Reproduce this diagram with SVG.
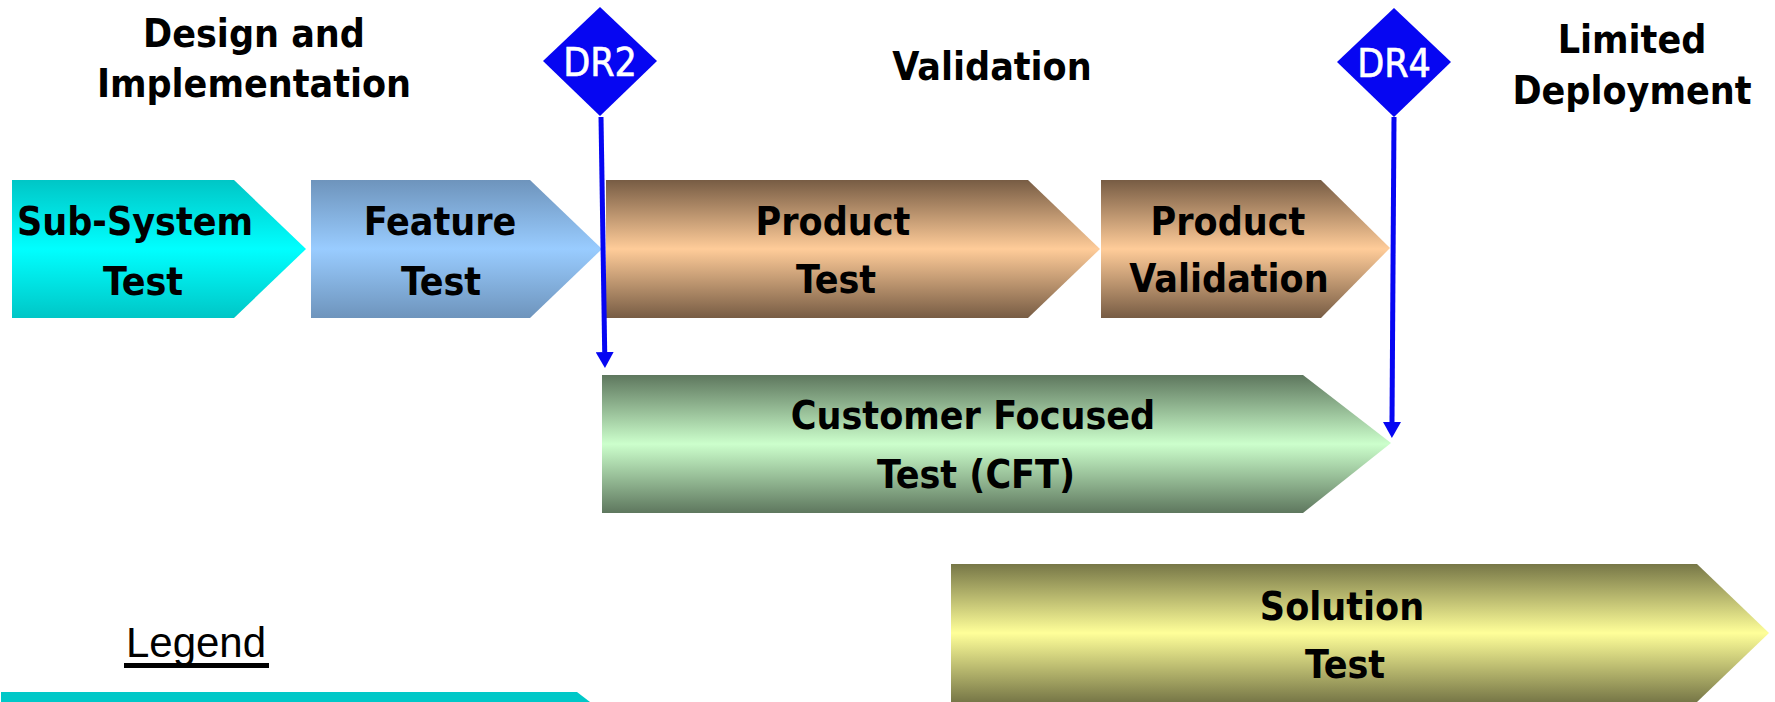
<svg xmlns="http://www.w3.org/2000/svg" width="1775" height="702" viewBox="0 0 1775 702">
<style>
  .lbl { font-family: "DejaVu Sans", "Liberation Sans", sans-serif; font-stretch: condensed; font-weight: bold; font-size: 39px; fill: #000; text-anchor: middle; }
  .dr { font-family: "DejaVu Sans", "Liberation Sans", sans-serif; font-stretch: condensed; font-size: 39px; fill: #fff; stroke: #fff; stroke-width: 0.6; text-anchor: middle; }
  .legend { font-family: "Liberation Sans", Arial, sans-serif; font-size: 42px; fill: #000; text-anchor: middle; }
  .conn { stroke: #0606F2; stroke-width: 5; fill: none; }
  .diamond { fill: #0606F2; }
</style>
<defs>
  <linearGradient id="gCyan" x1="0" y1="0" x2="0" y2="1">
    <stop offset="0" stop-color="#00C6C6"/><stop offset="0.5" stop-color="#00FFFF"/><stop offset="1" stop-color="#00C6C6"/>
  </linearGradient>
  <linearGradient id="gBlue" x1="0" y1="0" x2="0" y2="1">
    <stop offset="0" stop-color="#6E94BC"/><stop offset="0.5" stop-color="#99CCFF"/><stop offset="1" stop-color="#6E94BC"/>
  </linearGradient>
  <linearGradient id="gBrown" x1="0" y1="0" x2="0" y2="1">
    <stop offset="0" stop-color="#775C44"/><stop offset="0.5" stop-color="#FFCC99"/><stop offset="1" stop-color="#775C44"/>
  </linearGradient>
  <linearGradient id="gGreen" x1="0" y1="0" x2="0" y2="1">
    <stop offset="0" stop-color="#5E775E"/><stop offset="0.5" stop-color="#CCFFCC"/><stop offset="1" stop-color="#5E775E"/>
  </linearGradient>
  <linearGradient id="gYellow" x1="0" y1="0" x2="0" y2="1">
    <stop offset="0" stop-color="#777747"/><stop offset="0.5" stop-color="#FFFF99"/><stop offset="1" stop-color="#777747"/>
  </linearGradient>
  <marker id="arrow" viewBox="0 0 16 18" refX="0" refY="9" markerWidth="16" markerHeight="18" markerUnits="userSpaceOnUse" orient="auto">
    <path d="M0,0 L16,9 L0,18 z" fill="#0606F2"/>
  </marker>
</defs>

<g id="phase-labels">
  <text class="lbl" x="254" y="47">Design and</text>
  <text class="lbl" x="254" y="97">Implementation</text>
  <text class="lbl" x="992" y="80">Validation</text>
  <text class="lbl" x="1632" y="53">Limited</text>
  <text class="lbl" x="1632" y="104">Deployment</text>
</g>

<g id="sub-system-test">
  <polygon points="12,180 234,180 306,249 234,318 12,318" fill="url(#gCyan)"/>
  <text class="lbl" x="135" y="235">Sub-System</text>
  <text class="lbl" x="143" y="295">Test</text>
</g>

<g id="feature-test">
  <polygon points="311,180 530,180 602,249 530,318 311,318" fill="url(#gBlue)"/>
  <text class="lbl" x="440" y="235">Feature</text>
  <text class="lbl" x="441" y="295">Test</text>
</g>

<g id="product-test">
  <polygon points="606,180 1028,180 1100,249 1028,318 606,318" fill="url(#gBrown)"/>
  <text class="lbl" x="833" y="235">Product</text>
  <text class="lbl" x="836" y="293">Test</text>
</g>

<g id="product-validation">
  <polygon points="1101,180 1321,180 1390,248 1321,318 1101,318" fill="url(#gBrown)"/>
  <text class="lbl" x="1228" y="235">Product</text>
  <text class="lbl" x="1229" y="292">Validation</text>
</g>

<g id="customer-focused-test">
  <polygon points="602,375 1303,375 1391,443 1303,513 602,513" fill="url(#gGreen)"/>
  <text class="lbl" x="973" y="429">Customer Focused</text>
  <text class="lbl" x="976" y="488">Test (CFT)</text>
</g>

<g id="solution-test">
  <polygon points="951,564 1697,564 1769,633 1697,702 951,702" fill="url(#gYellow)"/>
  <text class="lbl" x="1342" y="620">Solution</text>
  <text class="lbl" x="1345" y="678">Test</text>
</g>

<g id="dr2">
  <polygon class="diamond" points="600,7 657,61 600,116 543,61"/>
  <text class="dr" x="600" y="76">DR2</text>
</g>

<g id="dr4">
  <polygon class="diamond" points="1394,8 1451,62 1394,117 1337,62"/>
  <text class="dr" x="1394" y="77">DR4</text>
</g>

<g id="legend">
  <text class="legend" x="196" y="657">Legend</text>
  <rect x="124" y="663" width="145" height="5" fill="#000"/>
  <polygon points="1,692 577,692 590,702 1,702" fill="#00C8C8"/>
</g>

<g id="connectors">
  <path class="conn" d="M601,117 L604.7,352" marker-end="url(#arrow)"/>
  <path class="conn" d="M1394,117 L1392,422" marker-end="url(#arrow)"/>
</g>
</svg>
